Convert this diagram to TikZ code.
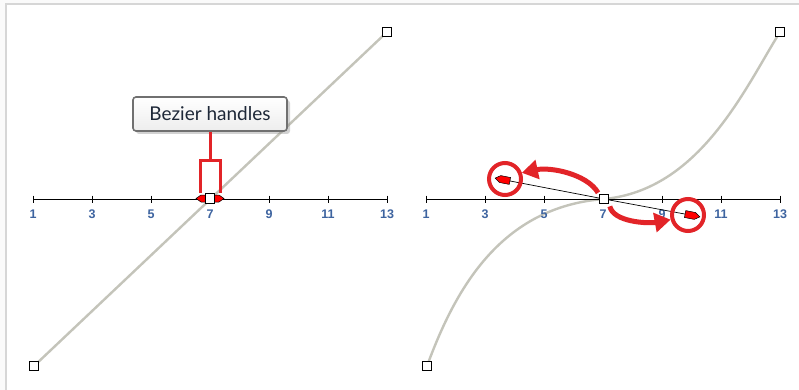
\documentclass[tikz,border=0pt]{standalone}
\usepackage{fontspec}
\setmainfont{Lato}
\newfontfamily\numfont{Liberation Sans}
\usetikzlibrary{arrows.meta,shapes.symbols,shadows}

\definecolor{rosso}{RGB}{226,36,40}
\definecolor{grigiocurva}{RGB}{196,196,186}
\definecolor{blunum}{RGB}{62,100,160}
\definecolor{bordo}{RGB}{214,214,214}
\definecolor{grigiofumetto}{RGB}{112,112,112}
\definecolor{testoscuro}{RGB}{30,40,56}

\pgfdeclarelayer{sfondo}
\pgfdeclarelayer{dietro}
\pgfsetlayers{sfondo,dietro,main}

%% asse graduato: #1 prefisso dei nomi, #2 ascissa del valore 1
\newcommand{\disegnaAsse}[2]{%
  \coordinate (#1ini) at (#2,199);
  \coordinate (#1fin) at (#2+354,199);
  \draw[asse] (#1ini) -- (#1fin);
  \foreach \n in {1,3,...,13}{
    \pgfmathsetmacro{\xt}{#2+29.5*(\n-1)}
    \draw[asse] (\xt,195.5) -- (\xt,202.5);
    \node[etich] (#1\n) at (\xt,214) {\n};
  }}

\begin{document}
\begin{tikzpicture}[x=1pt, y=-1pt,
    >=Stealth, line width=0.8pt,
    asse/.style={line width=0.9pt, black},
    curva/.style={line width=2.4pt, grigiocurva, line cap=round,
      line join=round},
    punto/.style={rectangle, fill=white, draw=black, inner sep=0pt,
      minimum size=9.5pt, line width=1.3pt},
    maniglia/.style={signal, signal from=nowhere, signal pointer angle=70,
      fill=red, draw=black, line width=0.5pt, inner sep=0pt,
      minimum width=15pt, minimum height=7pt},
    braccio/.style={line width=0.7pt, black},
    evid/.style={line width=3pt, rosso},
    cerchio/.style={circle, draw=rosso, line width=4pt, inner sep=0pt,
      minimum size=32pt},
    freccia/.style={-{Triangle[length=16pt,width=19pt]}, line width=5pt,
      rosso},
    etich/.style={font=\numfont\bfseries\fontsize{12.5}{14}\selectfont,
      text=blunum, inner sep=0pt},
    fumetto/.style={rectangle, rounded corners=3pt, draw=grigiofumetto,
      line width=1.6pt, top color=white, bottom color=gray!14,
      minimum width=154pt, minimum height=34pt, inner sep=0pt,
      font=\fontsize{19}{22}\selectfont, text=testoscuro,
      drop shadow={shadow xshift=3pt, shadow yshift=-3pt,
        opacity=0.35, fill=gray}}]

  %% --- cornice ---
  \useasboundingbox (0,0) rectangle (799,390);
  \begin{pgfonlayer}{sfondo}
    \fill[gray!4] (0,0) rectangle (799,390);
    \fill[white] (7,5) rectangle (799,390);
    \draw[bordo, line width=2pt] (6,390) -- (6,4) -- (799,4);
  \end{pgfonlayer}

  %% --- pannello sinistro: retta ---
  \disegnaAsse{a}{33}
  \node[punto] (pA1) at (34,366) {};
  \node[punto] (pB1) at (387,32) {};
  \node[maniglia, signal to=west, minimum width=12pt] (hL1) at (204.5,198.5) {};
  \node[maniglia, signal to=east, minimum width=12pt] (hR1) at (215.5,198.5) {};
  \node[punto] (pC1) at (210,198.5) {};
  \begin{pgfonlayer}{dietro}
    \draw[curva] (pA1.center) -- (pB1.center);
  \end{pgfonlayer}

  %% --- fumetto e staffa rossa ---
  \node[fumetto] (nota) at (210,114) {Bezier handles};
  \coordinate (staffa) at (210,160);
  \coordinate (gancioSx) at (200,193);
  \coordinate (gancioDx) at (220,193);
  \draw[evid] (nota.south) -- (staffa);
  \draw[evid] (gancioSx) |- (staffa) -| (gancioDx);

  %% --- pannello destro: curva a S ---
  \disegnaAsse{b}{426}
  \node[punto] (pA2) at (427,366) {};
  \node[punto] (pB2) at (780,32) {};
  \node[maniglia, signal to=west, rotate=-11] (hL2) at (505,180) {};
  \node[maniglia, signal to=east, rotate=-11] (hR2) at (690,215) {};
  \begin{pgfonlayer}{dietro}
    \draw[curva] (pA2.center) .. controls (455,290) and (500,207) .. (604,199)
      .. controls (700,190) and (745,88) .. (pB2.center);
  \end{pgfonlayer}
  \draw[braccio] (604,199) -- (hL2);
  \draw[braccio] (604,199) -- (hR2);
  \node[punto] (pC2) at (604,199) {};

  %% --- evidenziazioni ---
  \node[cerchio] (cL) at (505,179) {};
  \node[cerchio] (cR) at (688,215) {};
  \draw[freccia, shorten <=1pt] (pC2.north west)
    .. controls +(-12,-20) and +(28,-6) .. (cL.20);
  \draw[freccia, shorten <=2pt] (pC2.south east)
    .. controls +(4,18) and +(-22,4) .. (cR.195);

\end{tikzpicture}
\end{document}
